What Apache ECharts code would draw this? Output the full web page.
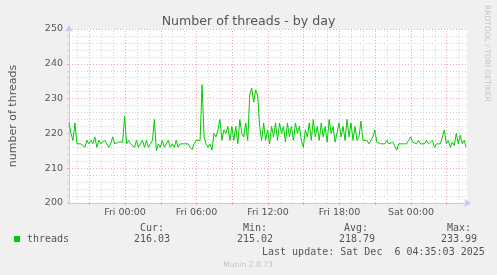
<!DOCTYPE html>
<html><head><meta charset="utf-8">
<script src="https://cdn.jsdelivr.net/npm/echarts@6/dist/echarts.min.js"></script>
<style>html,body{margin:0;padding:0;background:#f0f0f0}#c{width:497px;height:275px}</style>
</head><body><div id="c"></div>
<script>
// time in hours relative to Fri 00:00; one sample every 10 minutes
const startHour = -4.7;
const stepHours = 1 / 6;
const threads = [
223,220,218,223,217,217.5,217,217,216,218,
217,218,217,219,216,218,217,216.5,218,217,
216,217,219,217,217,217.5,217,217.5,225,217,
218,217,217.5,216,218,216,217,218,216,218,
216,216,218,224,215.02,217,216,218,216,217,
218,216,217,216,218,216,217,217,217,217,
217,216,215.4,217,218,217.5,218,233.99,219,217,
216,217,215.2,220,219,221,224,218,221,220,
222,218,222,218,222,217,224,220,219,223,
218,231,233,229,232.5,231,222,218,223,218,
221,217,222,219,223,218,223,220,222,217.5,
223,219,222,218,223,220,222,218,216,221,
219,223,218,224,219,222,218,223,219,222,
217.5,224,220,222,217.5,218,223,219,222,218,
224,219,223,218,222,218,219,223.5,218,217.5,
218,217,218,219,221,217.5,218,217,217.5,217,
218,217,216.5,217.5,217,215.2,217,217.5,217,217.5,
217,218,219,217.5,218,217,218,217,217.5,217,
218,217,217.5,218,216,217,216.5,217,217,221,
217,218,216,217.5,216.5,220,217,219.5,217,218,216.03
];
const xMin = -4.7, xMax = 28.7;
const xTickValues = [0, 6, 12, 18, 24];
const xTickLabels = ['Fri 00:00', 'Fri 06:00', 'Fri 12:00', 'Fri 18:00', 'Sat 00:00'];
const majorVLines = [-3, 0, 3, 6, 9, 12, 15, 18, 21, 24, 27];
const minorVLines = [-4, -2, -1, 1, 2, 4, 5, 7, 8, 10, 11, 13, 14, 16, 17, 19, 20, 22, 23, 25, 26, 28];
const yMin = 200, yMax = 250, yStep = 10;
const statHeads = ['Cur:', 'Min:', 'Avg:', 'Max:'];
const statValues = ['216.03', '215.02', '218.79', '233.99'];
const seriesName = 'threads';
const titleText = 'Number of threads - by day';
const yName = 'number of threads';
const lastUpdate = 'Last update: Sat Dec  6 04:35:03 2025';
const footer = 'Munin 2.0.73';
const sideText = 'RRDTOOL / TOBI OETIKER';

const RED = '#eaa8a8', GREY = '#d4d4d4', AXIS = '#c8c8f8', TXT = '#555555';
const SANS = 'DejaVu Sans', MONO = 'DejaVu Sans Mono';

const chart = echarts.init(document.getElementById('c'), null, {renderer: 'canvas'});
const statX = [134, 237, 339, 441];
const headX = [140, 243, 344, 447];
const graphics = [
  {type: 'rect', shape: {x: 14, y: 236, width: 6, height: 6}, style: {fill: '#00cc00'}},
  {type: 'text', x: 27, y: 239, style: {text: seriesName, font: '10px ' + MONO, fill: TXT, textVerticalAlign: 'middle', verticalAlign: 'middle'}},
  {type: 'text', x: 262, y: 252, style: {text: lastUpdate, font: '10px ' + MONO, fill: TXT, textVerticalAlign: 'middle', verticalAlign: 'middle'}},
  {type: 'text', x: 248, y: 265, style: {text: footer, font: '7.6px ' + SANS, fill: '#c4c4c4', textAlign: 'center', align: 'center', textVerticalAlign: 'middle', verticalAlign: 'middle'}},
  {type: 'text', x: 487, y: 5, rotation: -Math.PI / 2, style: {text: sideText, font: '7.5px ' + SANS, fill: '#c4c4c4', textVerticalAlign: 'middle', verticalAlign: 'middle'}}
];
statHeads.forEach((h, k) => {
  graphics.push({type: 'text', x: headX[k], y: 228, style: {text: h, font: '10px ' + MONO, fill: TXT, textVerticalAlign: 'middle', verticalAlign: 'middle'}});
  graphics.push({type: 'text', x: statX[k], y: 239, style: {text: statValues[k], font: '10px ' + MONO, fill: TXT, textVerticalAlign: 'middle', verticalAlign: 'middle'}});
});

chart.setOption({
  backgroundColor: '#f0f0f0',
  animation: false,
  title: {text: titleText, left: 'center', top: 10, textStyle: {fontFamily: SANS, fontSize: 12.6, fontWeight: 'normal', color: TXT}},
  grid: {left: 66, right: 30, top: 29, bottom: 72, show: true, backgroundColor: '#ffffff', borderWidth: 0},
  xAxis: {
    type: 'value', min: xMin, max: xMax,
    splitLine: {show: false},
    axisLine: {show: true, onZero: false, lineStyle: {color: AXIS}, symbol: ['none', 'arrow'], symbolSize: [6, 7], symbolOffset: [0, 4]},
    axisTick: {show: true, customValues: majorVLines, length: 2, lineStyle: {color: RED}},
    axisLabel: {customValues: xTickValues, formatter: v => xTickLabels[xTickValues.indexOf(v)], fontFamily: SANS, fontSize: 9.5, color: TXT, margin: 5}
  },
  yAxis: {
    type: 'value', min: yMin, max: yMax, interval: yStep,
    name: yName, nameLocation: 'middle', nameRotate: 90, nameGap: 50,
    nameTextStyle: {fontFamily: SANS, fontSize: 11, color: TXT},
    axisLine: {show: true, onZero: false, lineStyle: {color: AXIS}, symbol: ['none', 'arrow'], symbolSize: [6, 7], symbolOffset: [0, 4]},
    axisTick: {show: true, length: 2, lineStyle: {color: RED}},
    minorTick: {show: true, splitNumber: 5, length: 2, lineStyle: {color: GREY}},
    splitLine: {show: true, lineStyle: {color: RED, type: [1, 2]}},
    minorSplitLine: {show: true, lineStyle: {color: GREY, type: [1, 2]}},
    axisLabel: {fontFamily: SANS, fontSize: 9.5, color: TXT, margin: 6}
  },
  graphic: graphics,
  series: [{
    name: seriesName, type: 'line', z: 3,
    data: threads.map((v, i) => [startHour + i * stepHours, v]),
    showSymbol: false, silent: true,
    lineStyle: {color: '#00cc00', width: 1},
    itemStyle: {color: '#00cc00'},
    emphasis: {disabled: true},
    markLine: {
      silent: true, z: 1, animation: false, symbol: ['none', 'none'], label: {show: false},
      emphasis: {disabled: true},
      data: minorVLines.map(h => ({xAxis: h, lineStyle: {color: GREY, type: [1, 2], width: 1}}))
        .concat(majorVLines.map(h => ({xAxis: h, lineStyle: {color: RED, type: [1, 2], width: 1}})))
    }
  }]
});
</script>
</body></html>
